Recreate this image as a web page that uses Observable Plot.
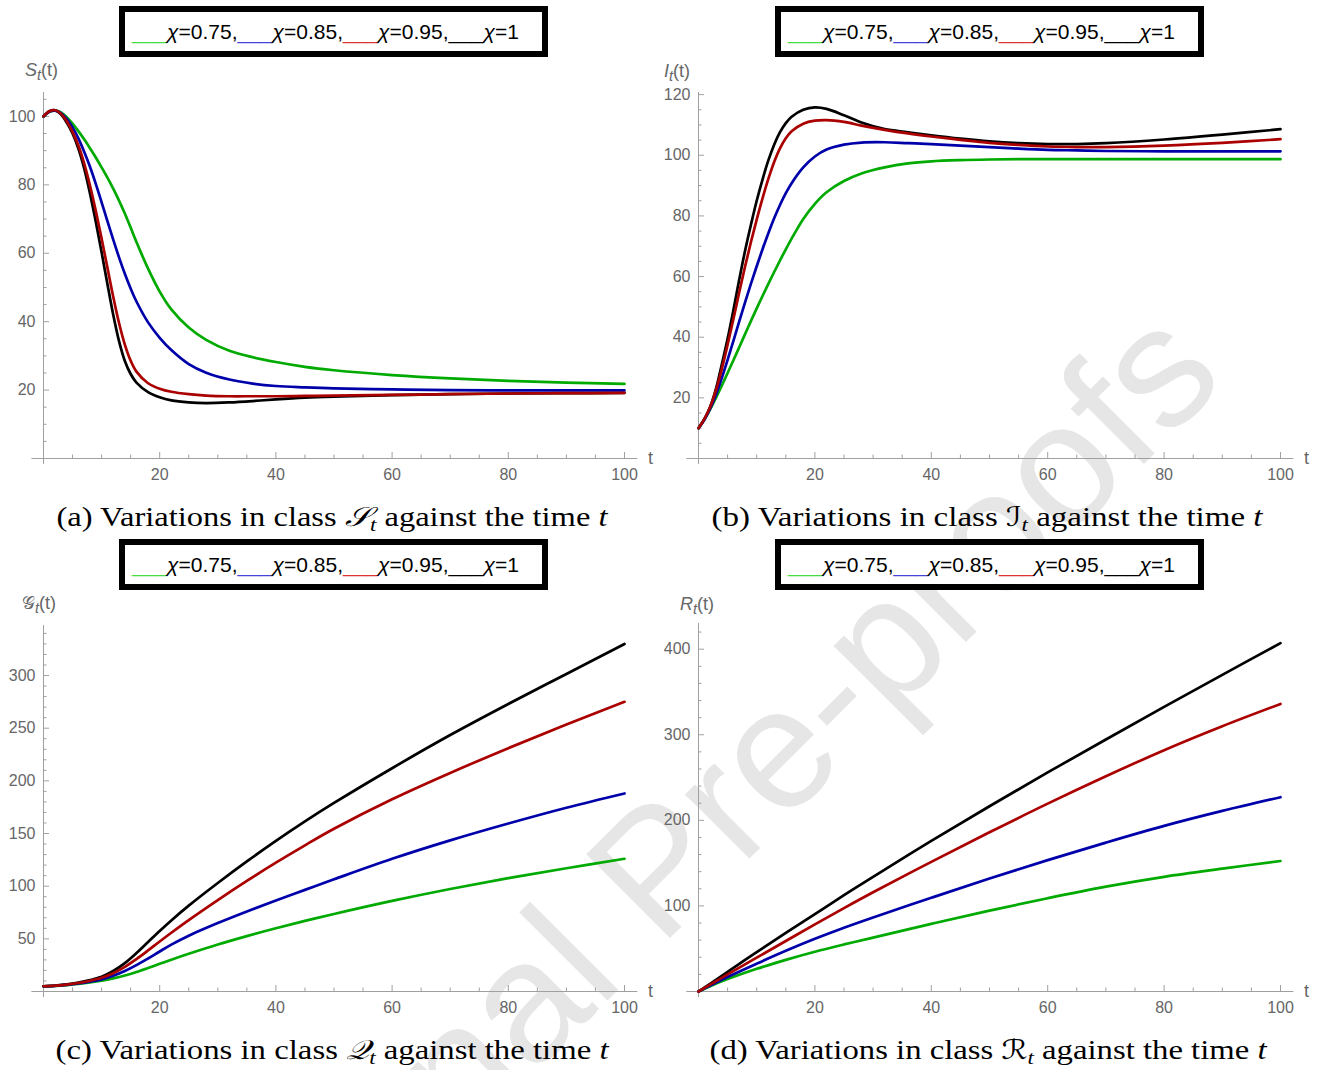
<!DOCTYPE html>
<html>
<head>
<meta charset="utf-8">
<script src="https://cdn.jsdelivr.net/npm/d3@7"></script>
<script src="https://cdn.jsdelivr.net/npm/@observablehq/plot@0.6"></script>
<style>
  body { margin: 0; background: #fff; }
  #page { position: relative; width: 1321px; height: 1070px; overflow: hidden; background: #fff; }
  .legend { position: absolute; box-sizing: border-box; border: 6px solid #000; background: #fff;
            font: 21px "Liberation Sans", Arial, sans-serif; color: #000; display: flex;
            align-items: center; justify-content: center; white-space: nowrap; padding: 1px 16px 0 0; }
  .cap { position: absolute; font: 27px "Liberation Serif", "Times New Roman", serif; color: #000;
         white-space: nowrap; }
  .cap sub { font-size: 0.7em; vertical-align: -0.25em; line-height: 0; }
  .alabel sub { font-size: 0.8em; vertical-align: -0.3em; line-height: 0; }
  .scr { font-family: "DejaVu Serif", "DejaVu Sans", serif; font-style: italic; }
  .alabel { position: absolute; font: 18px "Liberation Sans", Arial, sans-serif; color: #666;
            white-space: nowrap; transform: translateY(-50%); }
  .plotsvg { position: absolute; }
</style>
</head>
<body>
<div id="page">
  <svg id="wm" width="1321" height="1070" style="position:absolute;left:0;top:0"></svg>
</div>
<script>
// ---------------- data ----------------
const chiLabels = ["0.75", "0.85", "0.95", "1"];
const legendColors = ["#44dd44", "#4444dd", "#dd3333", "#000000"];
const lineColors = ["#00aa00", "#0000aa", "#aa0000", "#000000"];

// (a) S_t
const tA = [0,1,2,3,4,5,6,7,8,9,10,11,12,13,14,15,16,18,20,22,25,28,32,36,40,45,50,60,70,80,90,100];
const S_075 = [100,101.4,101.7,101.2,99.8,97.9,95.7,93.3,90.7,88,85.1,82.1,78.9,75.4,71.6,67.5,63.3,55.5,48.8,43.6,38.3,34.7,31.5,29.6,28.2,26.8,25.8,24.4,23.4,22.7,22.2,21.8];
const S_085 = [100,101.4,101.7,101,99.3,96.8,93.6,89.7,85.3,80.3,74.9,69.4,64,58.8,54,49.7,45.9,39.8,35.3,31.7,27.6,25.1,23.1,21.9,21.2,20.8,20.5,20.2,20,19.9,19.9,19.9];
const S_095 = [100,101.5,101.8,100.8,98.6,95.5,91.5,86.3,79.8,72.4,64.3,55.8,47.3,39.6,33.3,28.6,25.4,22,20.4,19.5,18.8,18.4,18.2,18.2,18.2,18.3,18.4,18.6,18.8,19,19.1,19.2];
const S_1   = [100,101.5,101.8,100.6,98.2,95,90.6,84.8,77.5,69.2,60.3,51,42,34.3,28.5,24.7,22.2,19.4,17.9,17,16.4,16.2,16.4,16.8,17.3,17.8,18.1,18.5,18.8,19,19.1,19.2];

// (b) I_t
const tB = [0,1,2,3,4,5,6,7,8,9,10,11,12,13,14,15,16,18,20,22,25,28,32,36,40,45,50,55,60,65,70,80,90,100];
const I_075 = [10,12.8,16.2,20,24,28.2,32.4,36.7,41,45.3,49.5,53.6,57.6,61.5,65.3,69,72.5,79,84,87.8,91.5,94,96,97.3,98,98.4,98.6,98.7,98.7,98.7,98.7,98.7,98.7,98.7];
const I_085 = [10,12.8,16.4,21,26.5,32.5,38.8,45.2,51.5,57.6,63.4,69,74.3,79.2,83.6,87.5,90.8,96,99.6,101.9,103.5,104.2,104.3,104,103.7,103.2,102.7,102.2,101.8,101.6,101.4,101.3,101.3,101.3];
const I_095 = [10,13,17,22.5,29.5,37.5,46,54.8,63.3,71.3,78.8,85.8,92.2,97.8,102.3,105.6,107.9,110.4,111.4,111.6,111,109.8,108.4,107.2,106.2,105.1,104.1,103.4,102.9,102.7,102.7,103.2,104.1,105.3];
const I_1   = [10,13,17,23,31,39.5,49,59,68.5,77,85,92,98.3,103.5,107.6,110.6,112.7,115,115.8,115.3,113.2,110.8,108.6,107.6,106.6,105.5,104.6,104,103.7,103.7,104,105.2,106.8,108.6];

// (c) Q_t
const tC = [0,2,4,6,8,10,12,14,16,18,20,22,25,30,35,40,45,50,60,70,80,90,100];
const Q_075 = [5,5.3,6.1,7.2,8.6,10.3,12.5,15.2,18.5,22.3,26.3,30.2,35.8,44.6,52.6,60,67,73.6,86,97.3,107.6,117,126];
const Q_085 = [5,5.4,6.3,7.6,9.3,11.5,15,19.5,25,31.3,38,44.5,53,65,76,86.5,96.5,106.5,126,143.5,159.5,174.5,188];
const Q_095 = [5,5.5,6.6,8.1,10.2,13,17.3,23.3,30.8,39,47.5,55.8,67.8,86.8,105,122.3,138.8,154.5,182.5,207.5,231,253.5,275];
const Q_1   = [5,5.6,6.7,8.4,10.8,14,19.5,27,36.5,47,57.5,67.5,81.5,103,123.5,143,161.5,179,212,243.5,273,301.5,330];

// (d) R_t
const tD = [0,2,5,10,15,20,25,30,40,50,60,70,80,90,100];
const R_075 = [0,6.2,14.5,26.5,37,46.5,55,63,79,94.5,109,122.5,134,143.5,152.5];
const R_085 = [0,7,17,32.5,47.5,61.5,74.5,86.5,109.5,132,153.5,174,193.5,211,227];
const R_095 = [0,8,20,39.5,59,78.5,97.5,116,151.5,186,219.5,251.5,282,310,336];
const R_1   = [0,9,23,46,68.5,90.5,112.5,134,176,216.5,256,294.5,332.5,370,407];

// ticks
const xLabelTicks = [20, 40, 60, 80, 100];
const xMinorTicks = [5,10,15,25,30,35,45,50,55,65,70,75,85,90,95];
const yTicksA = [20, 40, 60, 80, 100];
const yTicksB = [20, 40, 60, 80, 100, 120];
const yTicksC = [50, 100, 150, 200, 250, 300];
const yTicksD = [100, 200, 300, 400];

// ---------------- drawing ----------------
const page = document.getElementById("page");
const axisColor = "#a0a0a0", labelColor = "#666";

function panel(cfg) {
  const mL = 50, mR = 30, mT = 4, mB = 30;
  const innerW = cfg.x1 - cfg.x0, innerH = cfg.y0 - cfg.yTop;
  const yMinor = d3.range(cfg.minorStep, cfg.yMax, cfg.minorStep).filter(v => !cfg.yTicks.includes(v));
  const marks = [
    Plot.ruleY([0], {y: d => d, x1: -2, x2: 102.3, stroke: axisColor, strokeWidth: 1}),
    Plot.ruleX([0], {x: d => d, y1: cfg.yLow, y2: cfg.yMax, stroke: axisColor, strokeWidth: 1}),
    Plot.tickX(xMinorTicks, {x: d => d, insetTop: innerH - 3.5, stroke: axisColor}),
    Plot.tickX(xLabelTicks, {x: d => d, insetTop: innerH - 6, stroke: axisColor}),
    Plot.tickY(yMinor, {y: d => d, insetRight: innerW - 3.5, stroke: axisColor}),
    Plot.tickY(cfg.yTicks, {y: d => d, insetRight: innerW - 6, stroke: axisColor}),
    Plot.text(xLabelTicks, {x: d => d, y: 0, dy: 16, text: d => String(d), fill: labelColor, fontSize: 16}),
    Plot.text(cfg.yTicks, {x: 0, y: d => d, dx: -8, textAnchor: "end", text: d => String(d), fill: labelColor, fontSize: 16})
  ];
  const order = [3, 0, 1, 2];
  for (const i of order) {
    const s = cfg.series[i];
    const data = cfg.t.map((t, j) => ({t, v: s[j]}));
    marks.push(Plot.line(data, {x: "t", y: "v", stroke: lineColors[i], strokeWidth: 2.7, curve: "catmull-rom"}));
  }
  const svg = Plot.plot({
    width: innerW + mL + mR, height: innerH + mT + mB,
    marginLeft: mL, marginRight: mR, marginTop: mT, marginBottom: mB,
    x: {domain: [0, 100], axis: null},
    y: {domain: [0, cfg.yMax], axis: null},
    style: {background: "transparent", overflow: "visible", fontFamily: "'Liberation Sans', Arial, sans-serif", maxWidth: "none"},
    marks
  });
  svg.classList.add("plotsvg");
  svg.style.left = (cfg.x0 - mL) + "px";
  svg.style.top = (cfg.yTop - mT) + "px";
  page.appendChild(svg);
}

panel({t: tA, series: [S_075, S_085, S_095, S_1], x0: 43, x1: 624, y0: 458, yTop: 92, yMax: 107, yLow: -1.75, yTicks: yTicksA, minorStep: 5});
panel({t: tB, series: [I_075, I_085, I_095, I_1], x0: 698, x1: 1280, y0: 458, yTop: 92, yMax: 120.7, yLow: -2, yTicks: yTicksB, minorStep: 5});
panel({t: tC, series: [Q_075, Q_085, Q_095, Q_1], x0: 43, x1: 624, y0: 991, yTop: 625, yMax: 347.5, yLow: -5.7, yTicks: yTicksC, minorStep: 10});
panel({t: tD, series: [R_075, R_085, R_095, R_1], x0: 698, x1: 1280, y0: 991, yTop: 623, yMax: 430, yLow: -7, yTicks: yTicksD, minorStep: 20});

// legends
function legend(left, top) {
  const d = document.createElement("div");
  d.className = "legend";
  Object.assign(d.style, {left: left + "px", top: top + "px", width: "429px", height: "51px"});
  d.innerHTML = chiLabels.map((c, i) =>
    `<span style="color:${legendColors[i]}">___</span><i>χ</i>=${c}` + (i < chiLabels.length - 1 ? "," : "")).join("");
  page.appendChild(d);
}
legend(119, 6); legend(775, 6); legend(119, 539); legend(775, 539);

// axis labels
function html(cls, left, top, inner) {
  const d = document.createElement("div");
  d.className = cls;
  d.style.left = left + "px"; d.style.top = top + "px";
  d.innerHTML = inner;
  page.appendChild(d);
  return d;
}
html("alabel", 25, 70, '<i>S</i><sub><i>t</i></sub>(t)');
html("alabel", 664, 71, '<i>I</i><sub><i>t</i></sub>(t)');
html("alabel", 22, 603, '<span class="scr" style="font-style:normal">𝒢</span><sub><i>t</i></sub>(t)');
html("alabel", 680, 604, '<i>R</i><sub><i>t</i></sub>(t)');
html("alabel", 648, 458, 't');
html("alabel", 1304, 458, 't');
html("alabel", 648, 991, 't');
html("alabel", 1304, 991, 't');

// captions, stretched to the reference's text width
function caption(cx, cy, targetW, inner) {
  const d = html("cap", cx, cy, inner);
  const w = d.getBoundingClientRect().width;
  d.style.transform = `translate(-50%, -50%) scaleX(${targetW / w})`;
}
caption(332, 517, 551, '(a) Variations in class <span class="scr">𝒮</span><sub><i>t</i></sub> against the time <i>t</i>');
caption(987, 517, 551, '(b) Variations in class <span class="scr">ℐ</span><sub><i>t</i></sub> against the time <i>t</i>');
caption(332, 1050, 553, '(c) Variations in class <span class="scr">𝒬</span><sub><i>t</i></sub> against the time <i>t</i>');
caption(988, 1050, 557, '(d) Variations in class <span class="scr">ℛ</span><sub><i>t</i></sub> against the time <i>t</i>');

// watermark
const wm = d3.select("#wm");
const g = wm.append("g").attr("transform", "translate(660,948) rotate(-45)");
const txt = g.append("text").attr("font-size", 172).attr("fill", "#e6e6e6")
  .attr("font-family", "'Liberation Sans', Arial, sans-serif").text("Journal Pre-proofs");
const pre = txt.node().getSubStringLength(0, 8);
txt.attr("x", -pre);
</script>
</body>
</html>
